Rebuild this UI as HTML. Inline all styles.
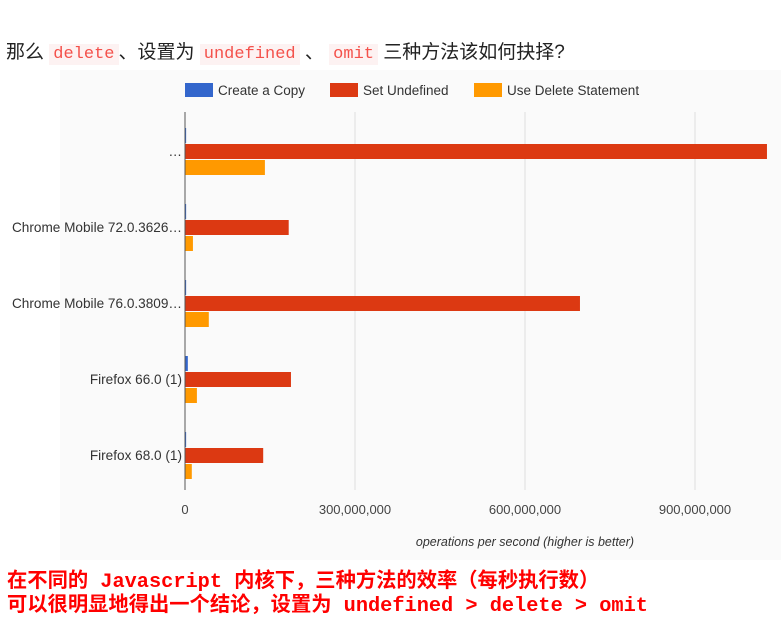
<!DOCTYPE html>
<html><head><meta charset="utf-8"><style>
body{margin:0;width:781px;height:628px;background:#fff;font-family:"Liberation Sans","Noto Sans CJK SC",sans-serif;overflow:hidden;position:relative}
.h{position:absolute;left:6px;top:37px;font-size:19px;color:#222;white-space:nowrap}
.c{font-family:"Liberation Mono",monospace;color:#f4514b;background:#fdf2f2;padding:1px 4px;font-size:17px}
.foot{position:absolute;left:7px;top:571px;color:#f00;font-size:20.3px;line-height:24px;font-weight:bold;font-family:"Liberation Mono","Noto Sans CJK SC",monospace;white-space:nowrap}
</style></head><body>
<div class="h">那么 <span class="c">delete</span>、设置为 <span class="c">undefined</span> 、 <span class="c">omit</span> 三种方法该如何抉择?</div>
<svg id="chart" width="781" height="560" style="position:absolute;left:0;top:0"></svg>
<div class="foot">在不同的 Javascript 内核下，三种方法的效率（每秒执行数）<br>可以很明显地得出一个结论，设置为 undefined &gt; delete &gt; omit</div>
<script>
const categories=["…","Chrome Mobile 72.0.3626…","Chrome Mobile 76.0.3809…","Firefox 66.0 (1)","Firefox 68.0 (1)"];
const seriesNames=["Create a Copy","Set Undefined","Use Delete Statement"];
const copyValues=[2,2,2,5,2];
const undefValues=[1027,183,697,187,138];
const deleteValues=[141,14,42,21,12];
const tickValues=[0,300,600,900];
const tickLabels=["0","300,000,000","600,000,000","900,000,000"];
const colors=["#3366cc","#dc3912","#ff9900"];
const svg=document.getElementById('chart');const NS="http://www.w3.org/2000/svg";
function mk(t,a,p){const e=document.createElementNS(NS,t);for(const k in a)e.setAttribute(k,a[k]);(p||svg).appendChild(e);return e;}
const x0=185,pxPer=170/300;
const xs=v=>x0+v*pxPer;
const groupY=i=>151+i*76;
const bg=mk('rect',{x:60,y:70,width:721,height:490,fill:'#fafafa'});


tickValues.forEach((v,i)=>{
 if(i>0){const g=mk('line',{x1:xs(v),x2:xs(v),y1:112,y2:490,stroke:'#ddd'});
 
 }
 const t=mk('text',{x:xs(v),y:514,'text-anchor':'middle','font-size':13,fill:'#444'});t.textContent=tickLabels[i];
 
 
});
const series=[copyValues,undefValues,deleteValues];
categories.forEach((c,i)=>{
 const cy=groupY(i);
 series.forEach((vals,s)=>{
  const r=mk('rect',{x:x0,y:cy-23+s*16,width:Math.max(1,xs(vals[i])-x0),height:15,fill:colors[s]});
  
  
 });
 const t=mk('text',{x:182,y:cy+5,'text-anchor':'end','font-size':13.6,fill:'#333'});t.textContent=c;
 
 
});
const ax=mk('line',{x1:x0,x2:x0,y1:112,y2:490,stroke:'#555'});


const xt=mk('text',{x:525,y:546,'text-anchor':'middle','font-size':12.5,'font-style':'italic',fill:'#333'});xt.textContent="operations per second (higher is better)";


const lx=[185,330,474];
seriesNames.forEach((n,i)=>{
 const r=mk('rect',{x:lx[i],y:83,width:28,height:14,fill:colors[i]});
 
 
 const t=mk('text',{x:lx[i]+33,y:95,'font-size':13.5,fill:'#333'});t.textContent=n;
 
 
});
</script>
</body></html>
